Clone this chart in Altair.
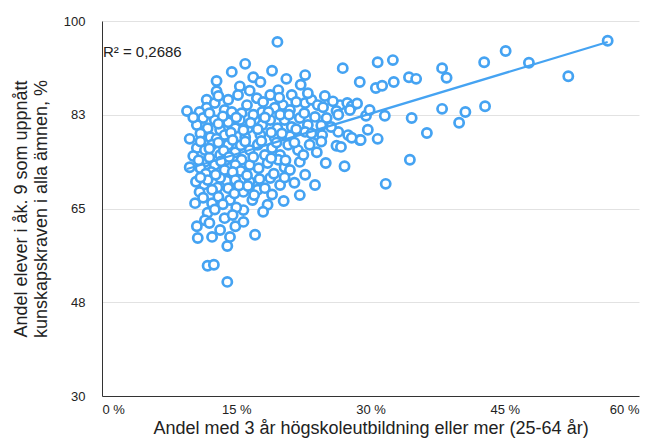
import altair as alt
import pandas as pd

# Share with 3+ years of higher education (%) and share of pupils passing all subjects (%)
x_vals = [
    # top band
    19.6, 14.5, 16.0, 19.0, 16.9, 17.7, 20.6, 22.7, 12.8, 12.8, 19.7, 22.2, 15.4, 16.5,
    # band 83-87
    9.5, 11.7, 11.7, 13.7, 16.2, 17.3, 18.0, 20.2, 21.2, 22.7, 23.4, 24.1, 24.7, 24.9, 26.6, 27.4, 27.9, 27.7,
    15.2, 18.8, 14.1, 12.6, 21.0, 19.3, 17.9, 15.6, 21.7, 10.9, 13.0, 19.8, 23.0, 25.8, 26.2, 28.5,
    # band 78-83
    11.3, 10.6, 9.8, 11.8, 12.6, 13.2, 14.1, 14.9, 15.4, 16.3, 17.1, 17.9, 18.8, 19.6, 20.4, 21.2, 22.1, 23.0,
    23.8, 25.1, 26.4, 26.4, 27.5, 24.0, 24.6, 12.1, 13.7, 16.0, 17.7, 19.3, 21.0, 22.7, 14.5, 16.9, 18.6, 19.9,
    10.2, 12.0, 13.5, 15.0, 16.6, 18.2, 20.9, 22.6, 24.5, 25.6, 13.0, 14.4, 15.8, 17.4, 18.9, 20.1, 21.7, 23.4,
    11.0, 12.8,
    # band 72-78
    10.6, 9.8, 11.5, 12.3, 13.2, 14.1, 14.9, 15.6, 16.5, 17.4, 18.2, 19.0, 19.9, 20.8, 21.9, 23.2, 26.2, 28.8,
    22.1, 20.4, 18.5, 19.7, 16.5, 14.9, 12.6, 11.5, 13.7, 27.1, 21.0, 22.7,
    10.2, 11.0, 12.0, 13.0, 13.8, 14.6, 15.5, 16.0, 16.9, 17.8, 18.9, 19.5, 20.5, 21.5, 22.5, 24.0, 11.0, 12.2,
    15.5, 17.5, 24.5, 25.0,
    10.8, 11.6, 12.4, 13.3, 13.9, 14.6, 12.9, 11.4, 13.6, 12.0, 14.2, 10.5,
    # band 65-72
    10.4, 11.8, 12.3, 13.2, 14.1, 14.9, 15.8, 16.5, 17.4, 18.2, 18.8, 19.9, 22.1, 23.8, 18.5, 18.0, 15.8, 13.7,
    11.8, 12.3, 14.3, 10.9, 16.8,
    11.0, 13.0, 14.8, 16.2, 17.6, 19.2, 20.4, 21.5, 12.7, 15.3, 17.0, 19.0, 20.3, 13.5, 15.0, 11.3,
    12.6, 14.6, 11.5, 16.3,
    # lower band
    10.6, 10.7, 12.3, 14.0, 14.9, 14.3, 17.1, 11.8, 12.5, 14.0, 13.2, 12.0, 15.8,
    # right-hand schools
    26.9, 28.8, 30.6, 31.3, 30.8, 32.5, 32.6, 34.3, 35.1, 38.0, 38.5, 38.0, 34.6, 36.3, 31.6, 29.7, 30.8, 34.4,
    31.7, 40.6, 39.9, 42.8, 42.7, 45.1, 47.7, 52.1, 56.5, 29.5, 29.9, 27.9, 28.9, 26.7,
]
y_vals = [
    96.1, 90.5, 92.0, 90.7, 89.5, 88.6, 89.2, 89.9, 88.8, 86.9, 87.1, 88.1, 87.8, 87.0,
    83.2, 85.3, 83.8, 83.4, 84.3, 85.6, 84.9, 84.3, 86.2, 84.7, 85.3, 84.3, 83.9, 86.0, 84.3, 84.7, 84.1, 83.4,
    86.2, 86.2, 85.3, 84.7, 83.4, 83.8, 83.0, 82.8, 84.9, 83.0, 86.0, 85.7, 86.5, 85.0, 83.2, 84.6,
    81.9, 80.6, 78.0, 80.0, 81.5, 79.7, 81.1, 80.0, 81.5, 80.0, 81.5, 80.6, 81.5, 80.0, 81.5, 80.2, 81.9, 80.6,
    82.1, 81.9, 82.5, 79.3, 78.7, 78.7, 78.7, 78.3, 78.7, 78.3, 78.7, 78.2, 78.5, 79.3, 83.0, 82.5, 83.0, 82.5,
    82.0, 82.8, 82.2, 82.0, 81.0, 82.0, 82.5, 82.8, 80.5, 80.2, 80.8, 79.2, 79.6, 79.8, 79.2, 79.0, 79.8, 79.0,
    79.0, 78.0,
    76.3, 72.7, 75.9, 76.9, 75.0, 76.9, 75.5, 74.1, 75.9, 76.9, 75.0, 76.3, 75.0, 76.9, 75.9, 76.9, 76.7, 77.8,
    73.7, 72.7, 73.5, 74.1, 73.1, 73.1, 73.1, 73.7, 72.2, 72.9, 72.2, 71.3,
    74.8, 77.5, 74.5, 77.3, 74.0, 77.8, 76.8, 77.5, 74.6, 77.6, 74.4, 77.3, 74.0, 77.3, 75.0, 75.5, 72.5, 71.8,
    72.0, 72.5, 77.5, 73.5,
    74.0, 71.5, 69.8, 73.8, 70.2, 71.8, 68.9, 69.5, 75.8, 76.2, 74.6, 70.0,
    66.0, 70.3, 68.5, 70.7, 68.8, 70.3, 68.1, 70.0, 68.5, 68.8, 70.7, 69.4, 67.5, 69.4, 65.7, 64.4, 64.7, 63.2,
    64.2, 66.0, 66.6, 68.1, 66.6,
    70.8, 67.2, 67.8, 71.2, 70.5, 71.5, 70.8, 69.8, 71.3, 69.3, 67.5, 67.6, 66.4, 65.8, 65.2, 67.0,
    64.8, 63.8, 62.8, 69.2,
    61.7, 59.5, 59.7, 58.0, 61.7, 59.7, 60.1, 54.3, 54.5, 51.3, 61.0, 62.3, 62.5,
    91.2, 88.6, 87.5, 87.9, 92.3, 92.7, 88.6, 89.5, 89.2, 91.2, 89.4, 83.6, 81.9, 79.1, 82.3, 79.7, 78.0, 74.1,
    69.6, 83.0, 81.0, 84.1, 92.3, 94.4, 92.2, 89.7, 96.3, 82.3, 83.4, 78.2, 77.8, 76.5,
]

x_ticks = [0, 15, 30, 45, 60]
y_ticks = [30, 47.5, 65, 82.5, 100]
r2_label = ["R² = 0,2686"]

n = min(len(x_vals), len(y_vals))
df = pd.DataFrame({"x": x_vals[:n], "y": y_vals[:n]})

BLUE = "#45a3f2"
FONT = "Liberation Sans"

x_enc = alt.X(
    "x:Q",
    scale=alt.Scale(domain=[0, 60], nice=False),
    axis=alt.Axis(
        values=x_ticks,
        labelExpr="datum.value + ' %'",
        grid=False,
        ticks=False,
        domainColor="#333333",
        labelPadding=7,
        titlePadding=3,
        titleFontSize=18,
        title="Andel med 3 år högskoleutbildning eller mer (25-64 år)",
    ),
)
y_enc = alt.Y(
    "y:Q",
    scale=alt.Scale(domain=[30, 100], nice=False, zero=False),
    axis=alt.Axis(
        values=y_ticks,
        format=".0f",
        grid=True,
        gridColor="#e2e2e2",
        ticks=False,
        domainColor="#333333",
        labelPadding=17,
        titlePadding=13,
        titleFontSize=18,
        titleLineHeight=20,
        title=["Andel elever i åk. 9 som uppnått", "kunskapskraven i alla ämnen, %"],
    ),
)

points = alt.Chart(df).mark_circle(
    size=85, fill="white", fillOpacity=1, opacity=1, stroke=BLUE, strokeWidth=2.7
).encode(x=x_enc, y=y_enc)

reg = (
    alt.Chart(df)
    .transform_regression("x", "y")
    .mark_line(color=BLUE, strokeWidth=2.2)
    .encode(x="x:Q", y="y:Q")
)

label_df = pd.DataFrame({"x": [0.1], "y": [94.2], "t": r2_label})
label = alt.Chart(label_df).mark_text(
    align="left", baseline="middle", font=FONT, fontSize=15, color="#222222"
).encode(x="x:Q", y="y:Q", text="t:N")

chart = (
    alt.layer(points, reg, label)
    .properties(
        width=537,
        height=375,
        autosize=alt.AutoSizeParams(type="none"),
        padding={"left": 94, "top": 13, "right": 9, "bottom": 44},
    )
    .configure_view(stroke=None)
    .configure_axis(
        labelFont=FONT,
        titleFont=FONT,
        labelFontSize=13,
        titleFontWeight="normal",
        labelColor="#222222",
        titleColor="#222222",
    )
)

chart.save("out.html", embed_options={"renderer": "svg", "actions": False})
